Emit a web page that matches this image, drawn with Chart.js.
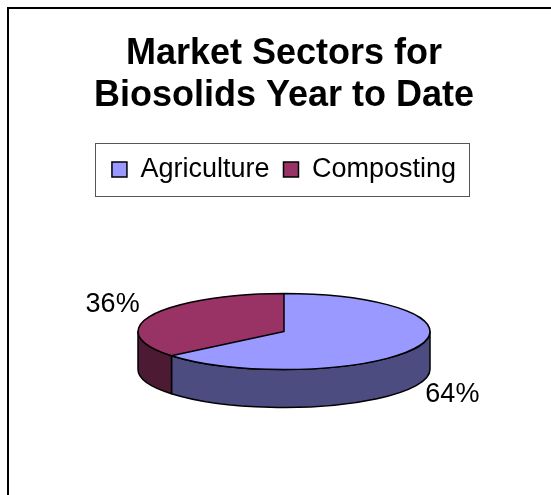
<!DOCTYPE html>
<html><head><meta charset="utf-8">
<script src="https://cdn.jsdelivr.net/npm/chart.js@4.4.1/dist/chart.umd.min.js"></script>
<style>html,body{margin:0;padding:0;background:#fff;overflow:hidden;} #wrap{width:551px;height:495px;position:relative;}</style>
</head><body><div id="wrap"><canvas id="c" width="551" height="495"></canvas></div>
<script>
const titleLines = ['Market Sectors for', 'Biosolids Year to Date'];
const categories = ['Agriculture', 'Composting'];
const shares = [64, 36];
const pctLabels = ['64%', '36%'];
const topColors = ['#9999FF', '#993366'];
const sideColors = ['#4C4C80', '#4C1A33'];

const FONT = "'Liberation Sans', Arial, Helvetica, sans-serif";
const RADIUS = 146;
const TILT = 38 / 146;
const DEPTH = 38;
const LABEL_SIZE = 27;

function frontRanges(a, b) {
  const out = [];
  for (const off of [-2 * Math.PI, 0, 2 * Math.PI]) {
    const lo = Math.max(a, off), hi = Math.min(b, off + Math.PI);
    if (hi > lo) out.push([lo, hi]);
  }
  return out;
}

const pie3d = {
  id: 'pie3d',
  beforeDraw(chart) {
    const ctx = chart.ctx;
    ctx.save();
    ctx.fillStyle = '#fff';
    ctx.fillRect(0, 0, chart.width, chart.height);
    ctx.strokeStyle = '#000';
    ctx.lineWidth = 2;
    ctx.strokeRect(8, 8, chart.width + 20, chart.height + 20);
    ctx.restore();
  },
  beforeDatasetsDraw(chart) {
    const ctx = chart.ctx;
    const arcs = chart.getDatasetMeta(0).data;
    const cx = arcs[0].x, cy = arcs[0].y;
    ctx.save();
    ctx.lineWidth = 1.5;
    ctx.strokeStyle = '#000';
    ctx.lineJoin = 'round';
    arcs.forEach((arc, i) => {
      const R = arc.outerRadius;
      frontRanges(arc.startAngle, arc.endAngle).forEach(([a, b]) => {
        ctx.beginPath();
        ctx.ellipse(cx, cy, R, R * TILT, 0, a, b, false);
        ctx.ellipse(cx, cy + DEPTH, R, R * TILT, 0, b, a, true);
        ctx.closePath();
        ctx.fillStyle = sideColors[i];
        ctx.fill();
        ctx.stroke();
      });
    });
    ctx.restore();
    ctx.save();
    ctx.translate(cx, cy);
    ctx.scale(1, TILT);
    ctx.translate(-cx, -cy);
  },
  afterDatasetsDraw(chart) {
    const ctx = chart.ctx;
    const arcs = chart.getDatasetMeta(0).data;
    const cx = arcs[0].x, cy = arcs[0].y;
    ctx.beginPath();
    arcs.forEach(arc => {
      ctx.moveTo(arc.x, arc.y);
      ctx.arc(arc.x, arc.y, arc.outerRadius, arc.startAngle, arc.endAngle);
      ctx.closePath();
    });
    ctx.restore();
    ctx.save();
    ctx.lineWidth = 1.5;
    ctx.strokeStyle = '#000';
    ctx.lineJoin = 'round';
    ctx.stroke();
    ctx.fillStyle = '#000';
    ctx.font = LABEL_SIZE + 'px ' + FONT;
    arcs.forEach((arc, i) => {
      const mid = (arc.startAngle + arc.endAngle) / 2;
      const c = Math.cos(mid), s = Math.sin(mid);
      const R = arc.outerRadius * 1.07;
      let x = cx + R * c;
      let y = cy + R * TILT * s;
      ctx.textAlign = c < 0 ? 'right' : 'left';
      ctx.textBaseline = 'alphabetic';
      if (s > 0) y += DEPTH + LABEL_SIZE * 0.716 - 4;
      else y -= 2;
      x += c < 0 ? -3 : 0;
      ctx.fillText(pctLabels[i], x, y);
    });
    ctx.restore();
  },
  afterDraw(chart) {
    const lg = chart.legend;
    if (!lg || !lg.legendHitBoxes || !lg.legendHitBoxes.length) return;
    const hb = lg.legendHitBoxes;
    let l = Infinity, r = -Infinity, t = Infinity, b = -Infinity;
    hb.forEach(h => {
      l = Math.min(l, h.left); r = Math.max(r, h.left + h.width);
      t = Math.min(t, h.top); b = Math.max(b, h.top + h.height);
    });
    const mid = (t + b) / 2;
    const ctx = chart.ctx;
    ctx.save();
    ctx.strokeStyle = '#555';
    ctx.lineWidth = 1;
    ctx.strokeRect(Math.round(l - 17) + 0.5, Math.round(mid - 26.5) + 0.5, Math.round(r + 13 - (l - 17)), 53);
    ctx.restore();
  }
};

new Chart(document.getElementById('c'), {
  type: 'pie',
  data: {
    labels: categories,
    datasets: [{
      data: shares,
      backgroundColor: topColors,
      borderWidth: 0,
      radius: RADIUS,
      clip: false
    }]
  },
  options: {
    responsive: false,
    animation: false,
    events: [],
    layout: { padding: { left: 17, right: 0, top: 0, bottom: 25 } },
    plugins: {
      title: {
        display: true,
        text: titleLines,
        color: '#000',
        font: { family: FONT, size: 36, weight: 'bold', lineHeight: 42 / 36 },
        padding: { top: 33, bottom: 25 }
      },
      legend: {
        display: true,
        position: 'top',
        labels: {
          color: '#000',
          font: { family: FONT, size: 27 },
          boxWidth: 15,
          boxHeight: 15,
          padding: 14,
          generateLabels() {
            return categories.map((t, i) => ({
              text: t, fillStyle: topColors[i], strokeStyle: '#000',
              lineWidth: 1.5, hidden: false, index: i
            }));
          }
        }
      },
      tooltip: { enabled: false }
    }
  },
  plugins: [pie3d]
});
</script>
</body></html>
